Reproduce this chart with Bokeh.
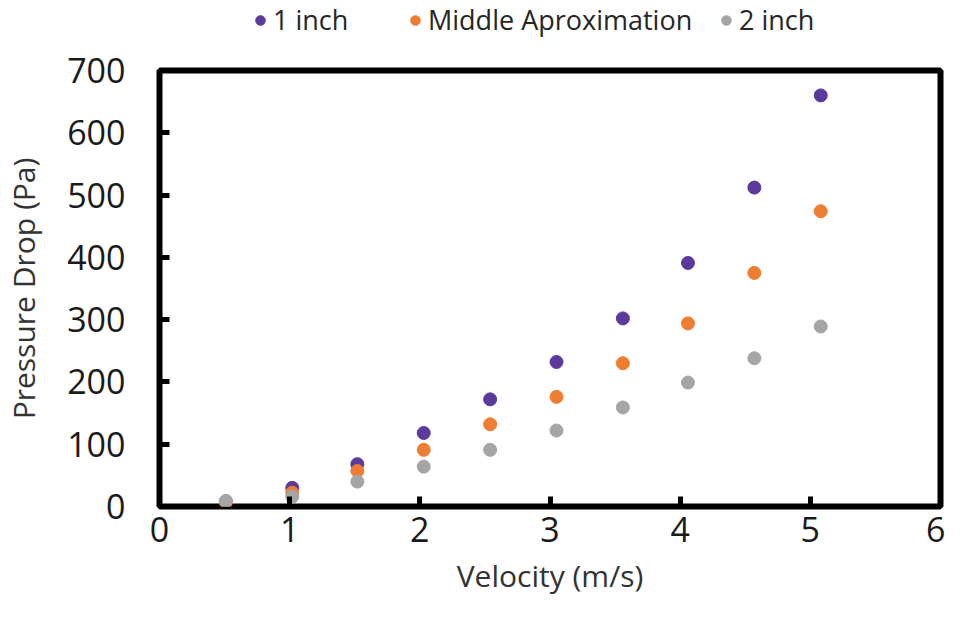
from bokeh.plotting import figure
from bokeh.layouts import column
from bokeh.models import ColumnDataSource, Legend, LegendItem, Range1d, FixedTicker
from bokeh.embed import file_html
from bokeh.resources import INLINE

velocity = [0.51, 1.02, 1.52, 2.03, 2.54, 3.05, 3.56, 4.06, 4.57, 5.08]
one_inch = [8, 30, 68, 118, 172, 232, 302, 391, 512, 660]
middle = [7, 22, 57, 91, 132, 176, 230, 294, 375, 474]
two_inch = [9, 16, 40, 64, 91, 122, 159, 199, 238, 289]

series_names = ["1 inch", "Middle Aproximation", "2 inch"]
colors = ["#5B3A9C", "#ED7D31", "#A5A5A5"]
x_ticks = [0, 1, 2, 3, 4, 5, 6]
y_ticks = [0, 100, 200, 300, 400, 500, 600, 700]

FONT = "Open Sans"

# ---- legend strip on top ----
leg = figure(width=945, height=44, output_backend="svg", toolbar_location=None,
             x_range=Range1d(0, 1), y_range=Range1d(0, 1),
             x_axis_location=None, y_axis_location=None,
             min_border=0, min_border_left=0, min_border_right=0, min_border_top=0, min_border_bottom=0)
leg.grid.visible = False
leg.outline_line_color = None
dummy = [leg.scatter(x=[-5], y=[-5], size=13, color=c) for c in colors]
for name, r, xpos in zip(series_names, dummy, [89, 244, 555]):
    lg = Legend(items=[LegendItem(label=name, renderers=[r])], location=(xpos, 6),
                orientation="horizontal")
    lg.label_text_font = FONT
    lg.label_text_font_size = "27px"
    lg.label_text_color = "#262626"
    lg.background_fill_alpha = 0
    lg.border_line_color = None
    lg.glyph_width = 24
    lg.glyph_height = 24
    lg.padding = 0
    lg.margin = 0
    lg.label_standoff = 1
    leg.add_layout(lg, "center")

# ---- main chart ----
p = figure(width=945, height=566, output_backend="svg", toolbar_location=None,
           x_range=Range1d(0, 6), y_range=Range1d(0, 700),
           min_border_left=159, min_border_right=5, min_border_top=26, min_border_bottom=104)

p.outline_line_color = "black"
p.outline_line_width = 6
p.grid.visible = False

src = ColumnDataSource(dict(x=velocity, a=one_inch, b=middle, c=two_inch))
p.scatter("x", "a", source=src, size=13, color=colors[0])
p.scatter("x", "b", source=src, size=13, color=colors[1])
p.scatter("x", "c", source=src, size=13, color=colors[2])

for ax, ticks in ((p.xaxis, x_ticks), (p.yaxis, y_ticks)):
    ax.ticker = FixedTicker(ticks=ticks)
    ax.axis_line_color = None
    ax.major_tick_in = 10
    ax.major_tick_out = 0
    ax.major_tick_line_width = 5
    ax.major_tick_line_color = "black"
    ax.minor_tick_line_color = None
    ax.major_label_text_font = FONT
    ax.major_label_text_font_size = "34px"
    ax.major_label_text_color = "#1a1a1a"
    ax.axis_label_text_font = FONT
    ax.axis_label_text_font_style = "normal"
    ax.axis_label_text_color = "#333333"
    ax.axis_label_text_font_size = "30px"

p.xaxis.axis_label = "Velocity (m/s)"
p.yaxis.axis_label = "Pressure Drop (Pa)"
p.xaxis.major_label_standoff = 10
p.yaxis.major_label_standoff = 34
p.xaxis.axis_label_standoff = 10
p.yaxis.axis_label_standoff = 20

layout = column(leg, p, spacing=0)
open("out.html", "w").write(file_html(layout, INLINE))
